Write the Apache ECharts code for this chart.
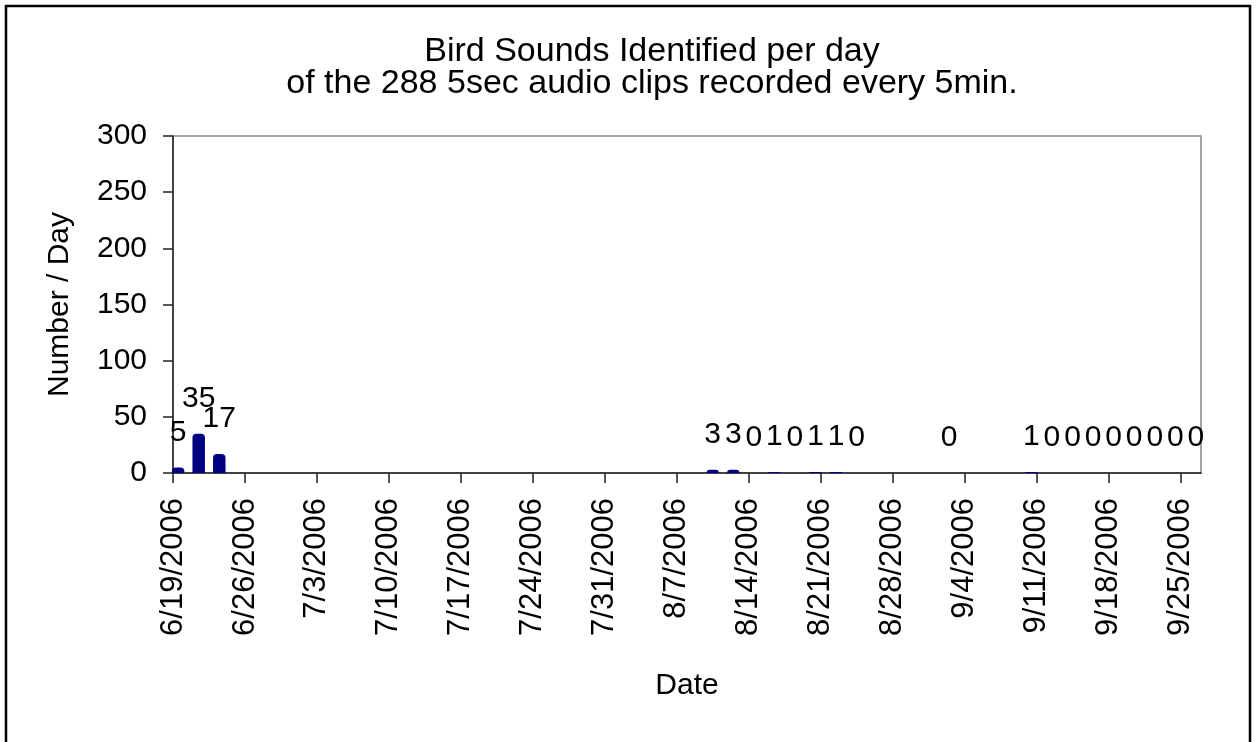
<!DOCTYPE html>
<html>
<head>
<meta charset="utf-8">
<script src="https://cdn.jsdelivr.net/npm/echarts@6/dist/echarts.min.js"></script>
<style>
  html, body { margin: 0; padding: 0; background: #fff; }
  #main { width: 1256px; height: 742px; }
</style>
</head>
<body>
<div id="main"></div>
<script>
// data
const obsDates = ['6/19/2006', '6/21/2006', '6/23/2006',
  '8/10/2006', '8/12/2006', '8/14/2006', '8/16/2006', '8/18/2006', '8/20/2006', '8/22/2006', '8/24/2006',
  '9/2/2006',
  '9/10/2006', '9/12/2006', '9/14/2006', '9/16/2006', '9/18/2006', '9/20/2006', '9/22/2006', '9/24/2006', '9/26/2006'];
const obsCounts = [5, 35, 17,
  3, 3, 0, 1, 0, 1, 1, 0,
  0,
  1, 0, 0, 0, 0, 0, 0, 0, 0];
const dateTicks = ['6/19/2006', '6/26/2006', '7/3/2006', '7/10/2006', '7/17/2006', '7/24/2006', '7/31/2006',
  '8/7/2006', '8/14/2006', '8/21/2006', '8/28/2006', '9/4/2006', '9/11/2006', '9/18/2006', '9/25/2006'];
const yTicks = [0, 50, 100, 150, 200, 250, 300];

const startDate = '6/19/2006';
const endDate = '9/27/2006';

// days since the first date on the axis
function dayNo(s) {
  const p = s.split('/').map(Number);
  const s0 = startDate.split('/').map(Number);
  return Math.round((Date.UTC(p[2], p[0] - 1, p[1]) - Date.UTC(s0[2], s0[0] - 1, s0[1])) / 86400000);
}
const labelByDay = {};
dateTicks.forEach(d => { labelByDay[dayNo(d)] = d; });

const font = 'Liberation Sans, Arial, sans-serif';
const chart = echarts.init(document.getElementById('main'));

const option = {
  animation: false,
  backgroundColor: '#fff',
  title: {
    text: 'Bird Sounds Identified per day\nof the 288 5sec audio clips recorded every 5min.',
    left: 647,
    top: 31,
    textAlign: 'center',
    textStyle: { fontFamily: font, fontSize: 34, fontWeight: 'normal', color: '#000', lineHeight: 32 }
  },
  graphic: [{
    type: 'rect',
    shape: { x: 6, y: 6, width: 1244, height: 800 },
    style: { fill: 'none', stroke: '#000', lineWidth: 2.5 },
    silent: true
  }],
  grid: {
    left: 173, right: 55, top: 136, bottom: 269,
    show: true, borderColor: '#888', borderWidth: 1.5, backgroundColor: '#fff'
  },
  xAxis: {
    type: 'value',
    min: 0,
    max: dayNo(endDate),
    name: 'Date',
    nameLocation: 'middle',
    nameGap: 198,
    nameTextStyle: { fontFamily: font, fontSize: 30, color: '#000' },
    splitLine: { show: false },
    axisLine: { show: true, lineStyle: { color: '#222', width: 1.5 } },
    axisTick: {
      show: true, length: 10, lineStyle: { color: '#222', width: 1.5 },
      customValues: dateTicks.map(dayNo)
    },
    axisLabel: {
      rotate: 90, margin: 25,
      fontFamily: font, fontSize: 31, color: '#000',
      customValues: dateTicks.map(dayNo),
      formatter: v => labelByDay[v] || ''
    }
  },
  yAxis: {
    type: 'value',
    min: yTicks[0],
    max: yTicks[yTicks.length - 1],
    interval: 50,
    name: 'Number / Day',
    nameLocation: 'middle',
    nameGap: 98,
    nameTextStyle: { fontFamily: font, fontSize: 30, color: '#000' },
    splitLine: { show: false },
    axisLine: { show: true, lineStyle: { color: '#222', width: 1.5 } },
    axisTick: { show: true, length: 10, lineStyle: { color: '#222', width: 1.5 } },
    axisLabel: { margin: 26, fontFamily: font, fontSize: 30, color: '#000' }
  },
  series: [{
    type: 'bar',
    barWidth: 12.5,
    // Excel date axis puts each day's bar between tick marks
    data: obsDates.map((d, i) => [dayNo(d) + 0.5, obsCounts[i]]),
    itemStyle: { color: '#000080', borderRadius: [4, 4, 0, 0] },
    label: {
      show: true, position: 'top', distance: 20,
      fontFamily: font, fontSize: 30, color: '#000',
      formatter: p => String(p.value[1])
    }
  }]
};
chart.setOption(option);
</script>
</body>
</html>
